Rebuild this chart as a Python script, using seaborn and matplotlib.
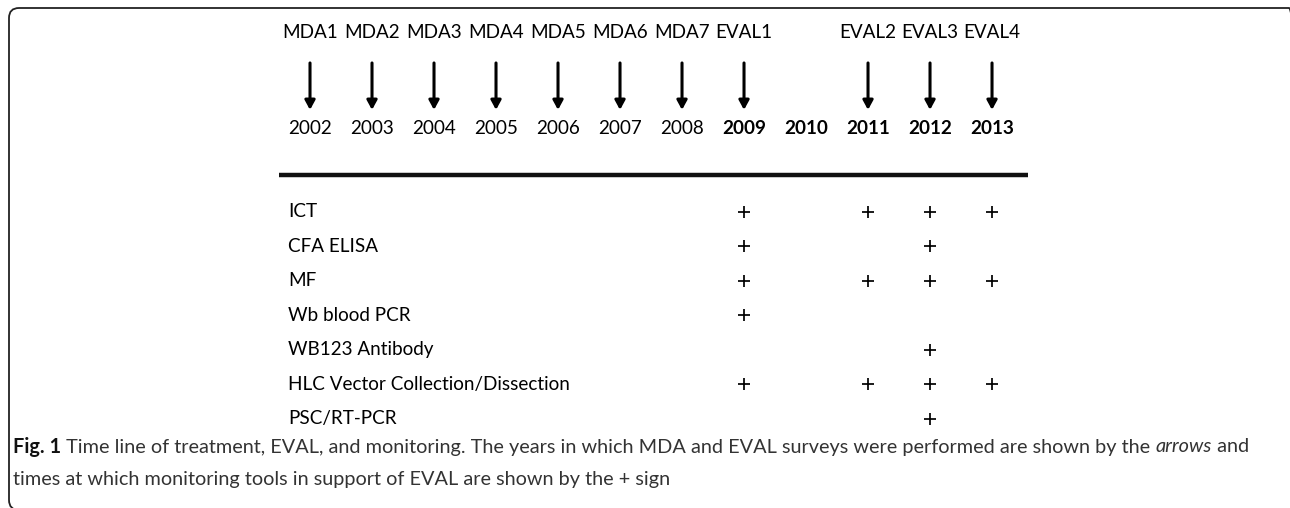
import matplotlib
matplotlib.use("Agg")
import matplotlib.pyplot as plt
import matplotlib.transforms as mtransforms
from matplotlib.patches import FancyBboxPatch
import pandas as pd
import seaborn as sns

# years on the time line (bold ones are the EVAL period)
years = [2002, 2003, 2004, 2005, 2006, 2007, 2008, 2009, 2010, 2011, 2012, 2013]
bold_years = [2009, 2010, 2011, 2012, 2013]

# MDA / EVAL events marked with arrows
event_labels = ["MDA1", "MDA2", "MDA3", "MDA4", "MDA5", "MDA6", "MDA7",
                "EVAL1", "EVAL2", "EVAL3", "EVAL4"]
event_years = [2002, 2003, 2004, 2005, 2006, 2007, 2008, 2009, 2011, 2012, 2013]

# monitoring tools and the years they were used (+ sign)
tools = ["ICT", "CFA ELISA", "MF", "Wb blood PCR", "WB123 Antibody",
         "HLC Vector Collection/Dissection", "PSC/RT-PCR"]
ict_years = [2009, 2011, 2012, 2013]
cfa_years = [2009, 2012]
mf_years = [2009, 2011, 2012, 2013]
wb_pcr_years = [2009]
wb123_years = [2012]
hlc_years = [2009, 2011, 2012, 2013]
psc_years = [2012]

tool_years = [ict_years, cfa_years, mf_years, wb_pcr_years, wb123_years, hlc_years, psc_years]
rows = []
for i, (tool, yrs) in enumerate(zip(tools, tool_years)):
    for y in yrs:
        rows.append({"tool": tool, "row": i, "year": y})
df = pd.DataFrame(rows)

caption_1 = " Time line of treatment, EVAL, and monitoring. The years in which MDA and EVAL surveys were performed are shown by the "
caption_2 = "times at which monitoring tools in support of EVAL are shown by the + sign"

sns.set_style("white")
plt.rcParams["font.family"] = ["Lato", "DejaVu Sans"]

W, H = 1290, 508
fig = plt.figure(figsize=(W / 100, H / 100), dpi=100)
ax = fig.add_axes([0, 0, 1, 1])

# layout in row units
y_label, y_arrow0, y_arrow1, y_year, y_rule = -5.19, -4.32, -2.96, -2.43, -1.07
fs = 13.6

for lab, yr in zip(event_labels, event_years):
    ax.text(yr, y_label, lab, ha="center", va="center", fontsize=fs, color="black")
    ax.annotate("", xy=(yr, y_arrow1), xytext=(yr, y_arrow0),
                arrowprops=dict(arrowstyle="-|>,head_length=0.55,head_width=0.3",
                                lw=2.2, color="black", shrinkA=0, shrinkB=0))

for yr in years:
    ax.text(yr, y_year, str(yr), ha="center", va="center", fontsize=fs, color="black",
            fontweight="bold" if yr in bold_years else "normal")

ax.plot([2001.5, 2013.58], [y_rule, y_rule], color="#111111", lw=3.2, solid_capstyle="butt")

for i, tool in enumerate(tools):
    ax.text(2001.645, i, tool, ha="left", va="center", fontsize=fs, color="black")

sns.scatterplot(data=df, x="year", y="row", marker="+", s=68, color="black",
                linewidth=1.25, ax=ax, legend=False)
ax.set_xlim(1997.0, 2017.806)
ax.set_ylim(8.58, -6.145)
ax.axis("off")

# rounded frame, cut on the right and bottom
frame = FancyBboxPatch((9, -2), 1290, 502, boxstyle="round,pad=0,rounding_size=10",
                       transform=mtransforms.IdentityTransform(), fill=False,
                       edgecolor="#222222", lw=1.3)
fig.patches.append(frame)

# caption with mixed styles
fig.canvas.draw()
renderer = fig.canvas.get_renderer()
cap_fs = 14.35
cap_col = "#333333"
x0 = 13
y1 = H - 447
y2 = H - 480
pieces = [("Fig. 1", "bold", "normal", "#111111"), (caption_1, "normal", "normal", cap_col),
          ("arrows", "normal", "italic", cap_col), (" and", "normal", "normal", cap_col)]
x = x0
for txt, w, st, c in pieces:
    t = fig.text(x, y1, txt, transform=mtransforms.IdentityTransform(), fontsize=cap_fs,
                 fontweight=w, fontstyle=st, color=c, va="center", ha="left")
    x = t.get_window_extent(renderer).x1

fig.text(x0, y2, caption_2, transform=mtransforms.IdentityTransform(), fontsize=cap_fs,
         color=cap_col, va="center", ha="left")

fig.savefig("out.png", dpi=100)
